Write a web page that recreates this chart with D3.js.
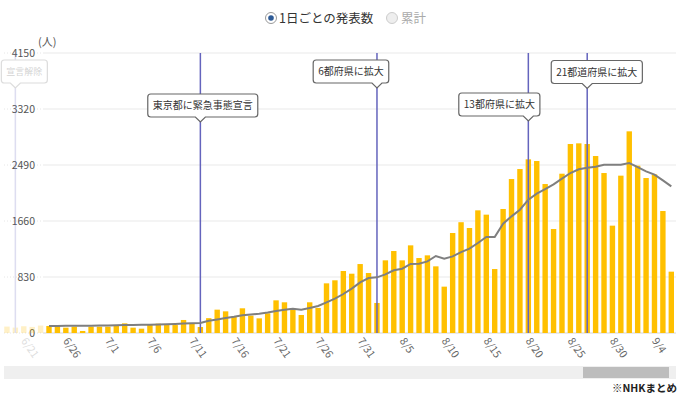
<!DOCTYPE html>
<html lang="ja">
<head>
<meta charset="UTF-8">
<title>新型コロナ 1日ごとの発表数</title>
<script src="https://d3js.org/d3.v7.min.js"></script>
<style>
    body { margin: 0; background: #fff; font-family: 'Noto Sans CJK JP', 'Noto Sans', sans-serif; }
    svg text { font-family: 'Noto Sans CJK JP', 'Noto Sans', sans-serif; }
</style>
</head>
<body>
<div id="chart"></div>
<script>
    // dates shown in the window
    const dates = [
        '6/24','6/25','6/26','6/27','6/28','6/29','6/30',
        '7/1','7/2','7/3','7/4','7/5','7/6','7/7','7/8','7/9','7/10','7/11','7/12','7/13','7/14','7/15','7/16',
        '7/17','7/18','7/19','7/20','7/21','7/22','7/23','7/24','7/25','7/26','7/27','7/28','7/29','7/30','7/31',
        '8/1','8/2','8/3','8/4','8/5','8/6','8/7','8/8','8/9','8/10','8/11','8/12','8/13','8/14','8/15','8/16',
        '8/17','8/18','8/19','8/20','8/21','8/22','8/23','8/24','8/25','8/26','8/27','8/28','8/29','8/30','8/31',
        '9/1','9/2','9/3','9/4','9/5','9/6'
    ];
    // daily reported cases
    const cases = [
        104, 118, 79, 94, 30, 94, 94,
        94, 118, 143, 79, 64, 123, 138, 118, 118, 193, 143, 89, 220, 346, 321, 240,
        366, 257, 217, 292, 484, 455, 361, 267, 455, 371, 736, 781, 919, 879, 1022,
        889, 445, 1077, 1215, 1077, 1299, 1111, 1151, 988, 687, 1482, 1642, 1556, 1818, 1754, 948,
        1838, 2282, 2430, 2574, 2549, 2208, 1541, 2361, 2801, 2811, 2801, 2623, 2371, 1591, 2332,
        2989, 2480, 2297, 2351, 1808, 909
    ];
    // grey line (average)
    const average = [
        104, 105, 106, 107, 108, 109, 110,
        112, 115, 118, 120, 122, 124, 127, 131, 135, 140, 145, 150, 180, 200, 222, 240,
        262, 275, 287, 305, 326, 345, 361, 346, 372, 400, 455, 509, 578, 657, 751,
        815, 825, 869, 929, 953, 1023, 1028, 1062, 1141, 1102, 1136, 1200, 1250, 1334, 1423, 1423,
        1620, 1729, 1828, 1976, 2065, 2134, 2203, 2287, 2371, 2426, 2450, 2465, 2495, 2495, 2495,
        2519, 2460, 2396, 2347, 2262, 2174
    ];
    // faded days left of the window (6/19 - 6/23)
    const ghostDates = ['6/19','6/20','6/21','6/22','6/23'];
    const ghostCases = [95, 80, 100, 90, 110];

    const yTicks = [0, 830, 1660, 2490, 3320, 4150];
    const xTickLabels = ['6/26','7/1','7/6','7/11','7/16','7/21','7/26','7/31','8/5','8/10','8/15','8/20','8/25','8/30','9/4'];

    const events = [
        { date: '7/12', label: '東京都に緊急事態宣言' },
        { date: '8/2', label: '6都府県に拡大' },
        { date: '8/20', label: '13都府県に拡大' },
        { date: '8/27', label: '21都道府県に拡大' }
    ];
    const ghostEvent = { date: '6/20', label: '宣言解除' };

    const width = 688, height = 396;
    const plotLeft = 43, plotRight = 676;

    const svg = d3.select('#chart').append('svg')
        .attr('width', width)
        .attr('height', height);

    // day index relative to 6/24
    const dayIndex = d => {
        const i = dates.indexOf(d);
        if (i >= 0) return i;
        return ghostDates.indexOf(d) - ghostDates.length;
    };

    const x = d3.scaleLinear().domain([0, dates.length - 1]).range([49, 671.3]);
    const y = d3.scaleLinear().domain([0, 4150]).range([333, 53]);
    const barW = 5.4;

    // legend
    const legend = svg.append('g').attr('transform', 'translate(0,18)');
    legend.append('circle').attr('cx', 271).attr('cy', 0).attr('r', 5.5)
        .attr('fill', '#fff').attr('stroke', '#999');
    legend.append('circle').attr('cx', 271).attr('cy', 0).attr('r', 2.8).attr('fill', '#2d5a96');
    legend.append('text').attr('x', 279).attr('y', 0).attr('dy', '0.36em')
        .style('font-size', '12.5px').attr('fill', '#333').text('1日ごとの発表数');
    legend.append('circle').attr('cx', 392).attr('cy', 0).attr('r', 5.5)
        .attr('fill', '#eee').attr('stroke', '#ccc');
    legend.append('text').attr('x', 401).attr('y', 0).attr('dy', '0.36em')
        .style('font-size', '12.5px').attr('fill', '#aaa').text('累計');

    // grid
    svg.append('g').selectAll('line.grid')
        .data(yTicks.slice(1))
        .join('line')
        .attr('x1', plotLeft).attr('x2', plotRight)
        .attr('y1', d => y(d)).attr('y2', d => y(d))
        .attr('stroke', '#e9e9e9').attr('stroke-width', 1.2);
    svg.append('g').selectAll('line')
        .data(yTicks)
        .join('line')
        .attr('x1', 4).attr('x2', plotLeft)
        .attr('y1', d => y(d)).attr('y2', d => y(d))
        .attr('stroke', '#e6e6e6').attr('stroke-dasharray', '1,2');

    // y labels
    svg.append('g').selectAll('text')
        .data(yTicks)
        .join('text')
        .attr('x', 35).attr('y', d => y(d)).attr('dy', '0.35em')
        .attr('text-anchor', 'end')
        .style('font-size', '10.5px').attr('fill', '#555')
        .text(d => d);
    svg.append('text').attr('x', 38).attr('y', 46)
        .style('font-size', '11px').attr('fill', '#555').text('(人)');

    // ghost layer (fading previous frame)
    const ghost = svg.append('g').attr('opacity', 0.22);
    ghost.selectAll('rect')
        .data(ghostCases)
        .join('rect')
        .attr('x', (d, i) => x(i - ghostCases.length) - barW / 2)
        .attr('y', d => y(d))
        .attr('width', barW)
        .attr('height', d => y(0) - y(d))
        .attr('fill', '#ffc000');
    ghost.append('line')
        .attr('x1', x(dayIndex(ghostEvent.date))).attr('x2', x(dayIndex(ghostEvent.date)))
        .attr('y1', y(4150)).attr('y2', y(0))
        .attr('stroke', '#6a6ac0').attr('stroke-width', 1.5);
    ghost.append('text')
        .attr('transform', `translate(${x(dayIndex('6/21'))},339) rotate(55)`)
        .attr('dy', '0.35em')
        .style('font-size', '10.5px').attr('fill', '#666')
        .text('6/21');

    // x axis line
    svg.append('line')
        .attr('x1', plotLeft).attr('x2', plotRight)
        .attr('y1', y(0)).attr('y2', y(0))
        .attr('stroke', '#e3e3e3').attr('stroke-width', 1.5);

    // bars
    svg.append('g').selectAll('rect')
        .data(cases)
        .join('rect')
        .attr('x', (d, i) => x(i) - barW / 2)
        .attr('y', d => y(d))
        .attr('width', barW)
        .attr('height', d => y(0) - y(d))
        .attr('fill', '#ffc000');

    // event lines
    svg.append('g').selectAll('line')
        .data(events)
        .join('line')
        .attr('x1', d => x(dayIndex(d.date))).attr('x2', d => x(dayIndex(d.date)))
        .attr('y1', y(4150)).attr('y2', y(0))
        .attr('stroke', '#6464bd').attr('stroke-width', 1.5);

    // average line
    const line = d3.line()
        .x((d, i) => x(i))
        .y(d => y(d));
    svg.append('path')
        .datum(average)
        .attr('d', line)
        .attr('fill', 'none')
        .attr('stroke', '#7f7f7f')
        .attr('stroke-width', 2);

    // x tick labels
    svg.append('g').selectAll('text')
        .data(xTickLabels)
        .join('text')
        .attr('transform', d => `translate(${x(dayIndex(d))},339) rotate(55)`)
        .attr('dy', '0.35em')
        .style('font-size', '10.5px').attr('fill', '#666')
        .text(d => d);

    // event callouts: box offset from the line, top of the box, font size
    const calloutPos = {
        '7/12': { dx: 2.4, top: 94, fs: 10 },
        '8/2': { dx: -26, top: 60, fs: 10 },
        '8/20': { dx: -29, top: 93, fs: 10 },
        '8/27': { dx: 9.6, top: 60.5, fs: 10 },
        '6/20': { dx: 9, top: 60, fs: 9 }
    };

    function callout(parent, ev) {
        const pos = calloutPos[ev.date];
        const lx = x(dayIndex(ev.date));
        const g = parent.append('g');
        const t = g.append('text')
            .attr('text-anchor', 'middle')
            .style('font-size', pos.fs + 'px').attr('fill', '#333')
            .text(ev.label);
        const w = t.node().getComputedTextLength() + 10;
        const h = 23;
        const cx = lx + pos.dx;
        const left = cx - w / 2, top = pos.top, bottom = top + h, r = 3;
        const p = d3.path();
        p.moveTo(left + r, top);
        p.lineTo(left + w - r, top);
        p.quadraticCurveTo(left + w, top, left + w, top + r);
        p.lineTo(left + w, bottom - r);
        p.quadraticCurveTo(left + w, bottom, left + w - r, bottom);
        p.lineTo(lx + 5, bottom);
        p.lineTo(lx, bottom + 5);
        p.lineTo(lx - 5, bottom);
        p.lineTo(left + r, bottom);
        p.quadraticCurveTo(left, bottom, left, bottom - r);
        p.lineTo(left, top + r);
        p.quadraticCurveTo(left, top, left + r, top);
        p.closePath();
        g.insert('path', 'text')
            .attr('d', p.toString())
            .attr('fill', '#fff')
            .attr('stroke', '#666')
            .attr('stroke-width', 1.2);
        t.attr('x', cx).attr('y', top + h / 2).attr('dy', '0.36em');
    }

    events.forEach(ev => callout(svg, ev));
    callout(ghost, ghostEvent);

    // data zoom slider
    svg.append('rect').attr('x', 4).attr('y', 366).attr('width', 672).attr('height', 13)
        .attr('fill', '#efefef');
    svg.append('rect').attr('x', 583).attr('y', 367).attr('width', 86).attr('height', 11)
        .attr('fill', '#bdbdbd');

    svg.append('text').attr('x', 677).attr('y', 388).attr('dy', '0.35em')
        .attr('text-anchor', 'end')
        .style('font-size', '10.5px').style('font-weight', 'bold').attr('fill', '#222')
        .text('※NHKまとめ');
</script>
</body>
</html>
